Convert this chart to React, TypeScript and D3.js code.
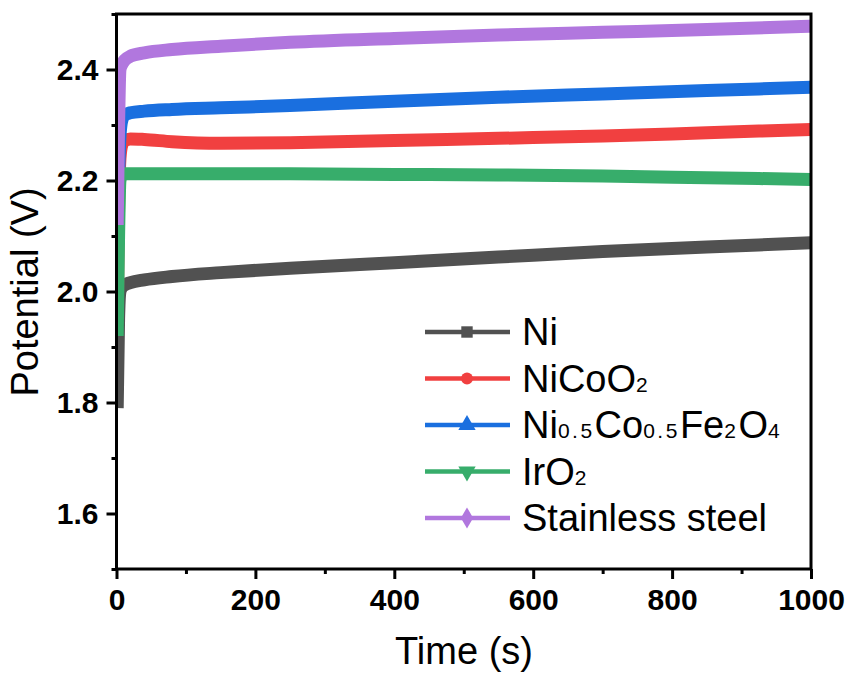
import React, { useEffect, useRef } from 'react';
import * as d3 from 'd3';

// time points (s) shared by every series
const times = [1, 3, 5, 8, 12, 20, 40, 80, 150, 250, 400, 550, 700, 850, 1000];

const niValues = [1.79, 1.95, 2.0, 2.008, 2.012, 2.016, 2.021, 2.027, 2.034, 2.042, 2.052, 2.062, 2.072, 2.080, 2.088];
const niCoO2Values = [1.95, 2.15, 2.24, 2.265, 2.272, 2.275, 2.274, 2.27, 2.267, 2.268, 2.272, 2.276, 2.28, 2.286, 2.292];
const ferriteValues = [2.07, 2.2, 2.28, 2.31, 2.318, 2.322, 2.325, 2.328, 2.331, 2.335, 2.343, 2.35, 2.356, 2.362, 2.368];
const irO2Values = [1.92, 2.1, 2.2, 2.21, 2.212, 2.212, 2.212, 2.212, 2.212, 2.212, 2.211, 2.21, 2.208, 2.205, 2.202];
const steelValues = [2.12, 2.3, 2.4, 2.41, 2.417, 2.424, 2.43, 2.436, 2.442, 2.449, 2.456, 2.462, 2.467, 2.472, 2.478];

// legend labels: [text, isSubscript] pieces
const seriesNames = [
  [['Ni', false]],
  [['NiCoO', false], ['2', true]],
  [['Ni', false], ['0.5', true], ['Co', false], ['0.5', true], ['Fe', false], ['2', true], ['O', false], ['4', true]],
  [['IrO', false], ['2', true]],
  [['Stainless steel', false]],
];
const seriesValues = [niValues, niCoO2Values, ferriteValues, irO2Values, steelValues];
const colors = ['#515151', '#F14040', '#1A6FDF', '#37AD6B', '#B177DE'];
const symbols = [d3.symbolSquare, d3.symbolCircle, d3.symbolTriangle, d3.symbolTriangle, d3.symbolDiamond];

const xTicks = [0, 200, 400, 600, 800, 1000];
const xMinor = [100, 300, 500, 700, 900];
const yTicks = [1.6, 1.8, 2.0, 2.2, 2.4];
const yMinor = [1.5, 1.7, 1.9, 2.1, 2.3, 2.5];

const App = () => {
  const ref = useRef<SVGSVGElement>(null);

  useEffect(() => {
    const width = 848;
    const height = 673;
    const left = 116.5, right = 811, top = 14, bottom = 569;
    const font = 'Arial, "Liberation Sans", sans-serif';

    const svg = d3.select(ref.current);
    svg.selectAll('*').remove();
    svg.attr('width', width).attr('height', height);

    const x = d3.scaleLinear().domain([0, 1000]).range([left, right]);
    const y = d3.scaleLinear().domain([1.5, 2.5]).range([bottom, top]);

    svg.append('clipPath').attr('id', 'plot-clip')
      .append('rect')
      .attr('x', left).attr('y', top)
      .attr('width', right - left).attr('height', bottom - top);

    const line = d3.line<number>()
      .x((d, i) => x(times[i]))
      .y(d => y(d))
      .curve(d3.curveMonotoneX);

    svg.append('g')
      .attr('clip-path', 'url(#plot-clip)')
      .selectAll('path')
      .data(seriesValues)
      .join('path')
      .attr('d', d => line(d))
      .attr('fill', 'none')
      .attr('stroke', (d, i) => colors[i])
      .attr('stroke-width', 13);

    // axes
    const xAxis = svg.append('g')
      .attr('transform', `translate(0,${bottom})`)
      .call(d3.axisBottom(x).tickValues(xTicks).tickSize(10).tickPadding(10).tickFormat(d3.format('d')));
    svg.append('g')
      .attr('transform', `translate(0,${bottom})`)
      .call(d3.axisBottom(x).tickValues(xMinor).tickSize(5).tickFormat(() => ''));

    const yAxis = svg.append('g')
      .attr('transform', `translate(${left},0)`)
      .call(d3.axisLeft(y).tickValues(yTicks).tickSize(10).tickPadding(8).tickFormat(d3.format('.1f')));
    svg.append('g')
      .attr('transform', `translate(${left},0)`)
      .call(d3.axisLeft(y).tickValues(yMinor).tickSize(5).tickFormat(() => ''));

    svg.selectAll('.domain').remove();
    svg.selectAll('.tick line').attr('stroke', '#000').attr('stroke-width', 3);
    [xAxis, yAxis].forEach(a => a.selectAll('text')
      .attr('font-family', font)
      .attr('font-size', 30)
      .attr('font-weight', 'bold')
      .attr('fill', '#000'));

    svg.append('rect')
      .attr('x', left).attr('y', top)
      .attr('width', right - left).attr('height', bottom - top)
      .attr('fill', 'none')
      .attr('stroke', '#000')
      .attr('stroke-width', 3);

    // axis titles
    svg.append('text')
      .attr('x', 464)
      .attr('y', 664)
      .attr('text-anchor', 'middle')
      .attr('font-family', font)
      .attr('font-size', 38)
      .text('Time (s)');

    svg.append('text')
      .attr('transform', `translate(38,292) rotate(-90)`)
      .attr('text-anchor', 'middle')
      .attr('font-family', font)
      .attr('font-size', 38)
      .text('Potential (V)');

    // legend
    const legend = svg.append('g');
    const rows = legend.selectAll('g')
      .data(seriesNames)
      .join('g')
      .attr('transform', (d, i) => `translate(0,${332 + i * 46.5})`);

    rows.append('line')
      .attr('x1', 425).attr('x2', 510)
      .attr('stroke', (d, i) => colors[i])
      .attr('stroke-width', 4.5);

    rows.append('path')
      .attr('transform', (d, i) => `translate(467,0)${i === 3 ? ' rotate(180)' : ''}`)
      .attr('d', (d, i) => d3.symbol().type(symbols[i]).size(i === 1 ? 110 : 130)())
      .attr('fill', (d, i) => colors[i]);

    const label = rows.append('text')
      .attr('x', 522)
      .attr('y', 13)
      .attr('font-family', font)
      .attr('font-size', 38);
    label.selectAll('tspan')
      .data(d => d)
      .join('tspan')
      .attr('font-size', d => (d[1] ? 21 : 38))
      .attr('letter-spacing', d => (d[1] ? 2.5 : 0))
      .text(d => d[0] as string);
  }, []);

  return (
    <svg ref={ref} style={{ position: 'absolute', left: 0, top: 0, background: '#fff' }} />
  );
};

export default App;
